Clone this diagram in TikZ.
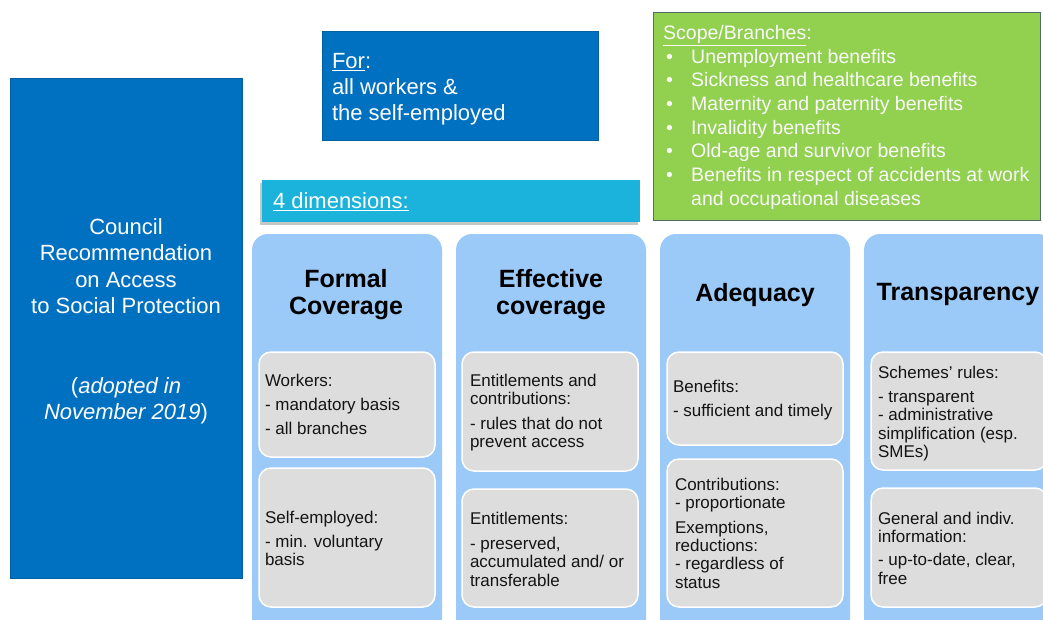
\documentclass[tikz,border=0pt]{standalone}
\usepackage{fontspec}
\setmainfont{Liberation Sans}
\usetikzlibrary{shadows}
\definecolor{dblue}{RGB}{0,112,192}
\definecolor{lblue}{RGB}{155,202,248}
\definecolor{gbox}{RGB}{221,221,221}
\definecolor{cyanbar}{RGB}{27,178,219}
\definecolor{scopegreen}{RGB}{146,208,80}
\definecolor{greenedge}{RGB}{80,110,100}
\definecolor{darktext}{RGB}{20,20,20}
\begin{document}
\begin{tikzpicture}[x=1pt,y=-1pt,
  box/.style={anchor=north west, inner sep=0pt, outer sep=0pt},
  colbox/.style={box, fill=lblue, rounded corners=16pt, minimum width=190pt, minimum height=420pt},
  graybox/.style={box, fill=gbox, draw=white, line width=1.5pt, rounded corners=12pt, minimum width=176pt},
  txt/.style={anchor=north west, inner sep=0pt, outer sep=0pt, align=left, text=darktext,
    font=\fontsize{17}{18.4}\selectfont},
  title/.style={anchor=north, inner sep=0pt, outer sep=0pt, align=center, text=black,
    font=\fontsize{25}{27}\selectfont\bfseries},
  wtxt/.style={anchor=north west, inner sep=0pt, outer sep=0pt, align=left, text=white,
    font=\fontsize{22}{26}\selectfont}
]
\useasboundingbox (0,0) rectangle (1043,619);

% left box
\node[box, fill=dblue, draw=dblue!85!black, line width=0.6pt, minimum width=232pt, minimum height=500pt] (rec) at (10,78) {};
\node[anchor=north, inner sep=0pt, align=center, text=white, font=\fontsize{22}{26.5}\selectfont] (rectxt) at (126,218)
  {Council\\Recommendation\\on Access\\to Social Protection\\[53pt](\textit{adopted in}\\\textit{November 2019})};

% For box
\node[box, fill=dblue, draw=dblue!85!black, line width=0.6pt, minimum width=276pt, minimum height=109pt] (forbox) at (322,31) {};
\node[wtxt] (fortxt) at (332,53) {\underline{For}:\\all workers \&\\the self-employed};

% Scope box
\node[box, fill=scopegreen, draw=greenedge, line width=1pt, minimum width=387pt, minimum height=208pt] (scope) at (653,12) {};
\node[anchor=north west, inner sep=0pt, align=left, text=white!95!gray, font=\fontsize{19.5}{23.7}\selectfont] (scopetxt) at (663,25)
  {\underline{Scope/Branches}:\\
   \hspace*{3pt}\makebox[25pt][l]{\textbullet}Unemployment benefits\\
   \hspace*{3pt}\makebox[25pt][l]{\textbullet}Sickness and healthcare benefits\\
   \hspace*{3pt}\makebox[25pt][l]{\textbullet}Maternity and paternity benefits\\
   \hspace*{3pt}\makebox[25pt][l]{\textbullet}Invalidity benefits\\
   \hspace*{3pt}\makebox[25pt][l]{\textbullet}Old-age and survivor benefits\\
   \hspace*{3pt}\makebox[25pt][l]{\textbullet}Benefits in respect of accidents at work\\
   \hspace*{28pt}and occupational diseases};

% 4 dimensions bar
\node[box, fill=cyanbar, minimum width=378pt, minimum height=42pt,
  drop shadow={shadow xshift=-2pt, shadow yshift=-3pt, fill=black, opacity=0.22}] (bar) at (262,180) {};
\node[wtxt] (bartxt) at (273,193) {\underline{4 dimensions:}};

% columns
\node[colbox] (col1) at (252,234) {};
\node[colbox] (col2) at (456,234) {};
\node[colbox] (col3) at (660,234) {};
\node[colbox] (col4) at (864,234) {};

\node[title] (t1) at (346,269) {Formal\\Coverage};
\node[title] (t2) at (551,269) {Effective\\coverage};
\node[title] (t3) at (755,283) {Adequacy};
\node[title] (t4) at (958,283) {Transparency};

% gray boxes
\node[graybox, minimum height=105pt] (g1a) at (259,352) {};
\node[graybox, minimum height=139pt] (g1b) at (259,468) {};
\node[graybox, minimum height=119pt] (g2a) at (462,352) {};
\node[graybox, minimum height=118pt] (g2b) at (462,489) {};
\node[graybox, minimum height=93pt] (g3a) at (667,352) {};
\node[graybox, minimum height=148pt] (g3b) at (667,459) {};
\node[graybox, minimum height=118pt] (g4a) at (871,352) {};
\node[graybox, minimum height=119pt] (g4b) at (871,488) {};

% texts
\node[txt] (x1a) at (265,374) {Workers:\\[5.6pt]- mandatory basis\\[5.6pt]- all branches};
\node[txt] (x1b) at (265,511) {Self-employed:\\[5.6pt]- min. voluntary\\basis};
\node[txt] (x2a) at (470,374) {Entitlements and\\contributions:\\[6pt]- rules that do not\\prevent access};
\node[txt] (x2b) at (470,512) {Entitlements:\\[6.6pt]- preserved,\\accumulated and/ or\\transferable};
\node[txt] (x3a) at (673,380) {Benefits:\\[5.6pt]- sufficient and timely};
\node[txt] (x3b) at (675,478) {Contributions:\\- proportionate\\[6pt]Exemptions,\\reductions:\\- regardless of\\status};
\node[txt] (x4a) at (878,366) {Schemes’ rules:\\[5.6pt]- transparent\\- administrative\\simplification (esp.\\SMEs)};
\node[txt] (x4b) at (878,512) {General and indiv.\\information:\\[4.6pt]- up-to-date, clear,\\free};
\end{tikzpicture}
\end{document}
